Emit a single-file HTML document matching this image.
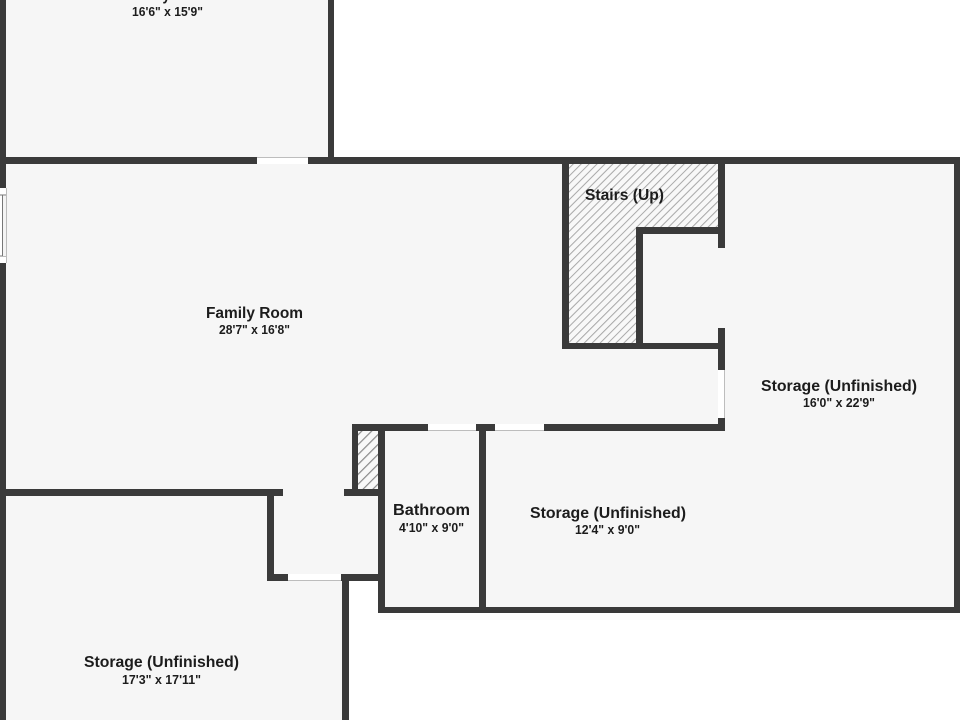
<!DOCTYPE html>
<html><head><meta charset="utf-8"><style>
html,body{margin:0;padding:0;background:#fff}
svg{display:block}
text{font-family:"Liberation Sans",Arial,sans-serif;font-weight:700;fill:#1c1c1c}
.a{font-size:16px}.b{font-size:13px}
</style></head><body>
<svg width="960" height="720" viewBox="0 0 960 720" xmlns="http://www.w3.org/2000/svg">
<defs>
<pattern id="h1" width="5.6" height="5.6" patternUnits="userSpaceOnUse" patternTransform="rotate(-45)"><rect width="5.6" height="5.6" fill="#f8f8f8"/><rect width="5.6" height="1" fill="#a8a8a8"/></pattern>
<pattern id="h2" width="7" height="7" patternUnits="userSpaceOnUse" patternTransform="rotate(-45)"><rect width="7" height="7" fill="#f8f8f8"/><rect width="7" height="1.2" fill="#8a8a8a"/></pattern>
</defs>
<rect width="960" height="720" fill="#fff"/>
<!-- floors -->
<path fill="#f6f6f6" d="M0 0H331V160H957V610H381V578H346V720H0Z"/>
<path fill="url(#h1)" d="M569 164H718V227H636V349H569Z"/>
<rect x="358" y="431" width="20" height="58" fill="url(#h2)"/>
<!-- walls -->
<g fill="#3a3a3a">
<rect x="0" y="0" width="6" height="188"/>
<rect x="0" y="263" width="6" height="457"/>
<rect x="328" y="0" width="6" height="160"/>
<rect x="0" y="157" width="257" height="7"/>
<rect x="308" y="157" width="652" height="7"/>
<rect x="954" y="157" width="6" height="456"/>
<rect x="562" y="160" width="7" height="189"/>
<rect x="718" y="160" width="7" height="88"/>
<rect x="636" y="227" width="89" height="7"/>
<rect x="636" y="227" width="7" height="122"/>
<rect x="562" y="343" width="163" height="6"/>
<rect x="718" y="328" width="7" height="42"/>
<rect x="718" y="418" width="7" height="13"/>
<rect x="544" y="424" width="181" height="7"/>
<rect x="476" y="424" width="19" height="7"/>
<rect x="352" y="424" width="76" height="7"/>
<rect x="352" y="424" width="6" height="72"/>
<rect x="378" y="424" width="7" height="189"/>
<rect x="344" y="489" width="41" height="7"/>
<rect x="0" y="489" width="283" height="7"/>
<rect x="267" y="489" width="7" height="92"/>
<rect x="267" y="574" width="21" height="7"/>
<rect x="341" y="574" width="44" height="7"/>
<rect x="342" y="574" width="7" height="146"/>
<rect x="378" y="607" width="582" height="6"/>
<rect x="479" y="424" width="7" height="189"/>
</g>
<!-- doors / windows -->
<g fill="#fff" stroke="#bdbdbd" stroke-width="1">
<path d="M257 157.500H308" fill="none"/>
<rect x="257" y="158" width="51" height="6" stroke="none"/>
<path d="M257 157.500H308M428 430.500H476M495 430.500H544M288 580.500H341M724.500 370V418"/>
</g>
<rect x="428" y="424" width="48" height="6" fill="#fff"/>
<rect x="495" y="424" width="49" height="6" fill="#fff"/>
<rect x="288" y="574" width="53" height="6" fill="#fff"/>
<rect x="718" y="370" width="6" height="48" fill="#fff"/>
<rect x="0" y="188" width="6" height="75" fill="#fff"/>
<path d="M6.500 188V263" stroke="#bbb" stroke-width="1" fill="none"/>
<path d="M0 195H6M0 256H6M2.500 195V256" stroke="#777" stroke-width="1" fill="none"/>
<rect x="3" y="196" width="3" height="60" fill="#f4f4f4"/>
<!-- labels -->
<text class="a" x="152" y="0" textLength="30" lengthAdjust="spacingAndGlyphs">Gym</text>
<text class="b" x="132" y="16" textLength="71" lengthAdjust="spacingAndGlyphs">16'6" x 15'9"</text>
<text class="a" x="206" y="318" textLength="97" lengthAdjust="spacingAndGlyphs">Family Room</text>
<text class="b" x="219" y="334" textLength="71" lengthAdjust="spacingAndGlyphs">28'7" x 16'8"</text>
<text class="a" x="585" y="200" textLength="79" lengthAdjust="spacingAndGlyphs">Stairs (Up)</text>
<text class="a" x="761" y="391" textLength="156" lengthAdjust="spacingAndGlyphs">Storage (Unfinished)</text>
<text class="b" x="803" y="407" textLength="72" lengthAdjust="spacingAndGlyphs">16'0" x 22'9"</text>
<text class="a" x="393" y="515" textLength="77" lengthAdjust="spacingAndGlyphs">Bathroom</text>
<text class="b" x="399" y="532" textLength="65" lengthAdjust="spacingAndGlyphs">4'10" x 9'0"</text>
<text class="a" x="530" y="518" textLength="156" lengthAdjust="spacingAndGlyphs">Storage (Unfinished)</text>
<text class="b" x="575" y="534" textLength="65" lengthAdjust="spacingAndGlyphs">12'4" x 9'0"</text>
<text class="a" x="84" y="667" textLength="155" lengthAdjust="spacingAndGlyphs">Storage (Unfinished)</text>
<text class="b" x="122" y="684" textLength="79" lengthAdjust="spacingAndGlyphs">17'3" x 17'11"</text>
</svg>
</body></html>
